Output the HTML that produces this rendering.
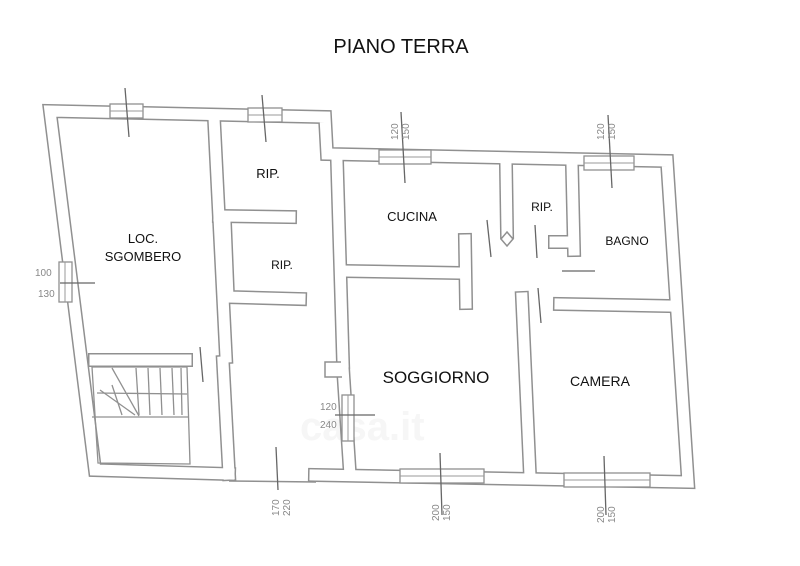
<!DOCTYPE html>
<html><head><meta charset="utf-8"><style>
html,body{margin:0;padding:0;background:#fff;}
svg{display:block}
text{font-family:"Liberation Sans",sans-serif;}
</style></head><body>
<svg width="800" height="566" viewBox="0 0 800 566" xmlns="http://www.w3.org/2000/svg">
<rect width="800" height="566" fill="#fff"/>
<text x="401" y="53" font-size="20" text-anchor="middle" fill="#111">PIANO TERRA</text>

<text x="300" y="440" font-size="40" font-weight="bold" fill="#f6f6f6">casa.it</text>

<g fill="none" stroke-linejoin="miter" stroke-linecap="square">
<g stroke="#909090" stroke-width="14">
  <polyline points="229,474 95,470 50,111 325,117 327,154 667,161 688,482 315,475"/>
  <polyline points="214,118 226,357"/>
  <polyline points="95,360 186,360"/>
  <polyline points="223,362 229,474"/>
  <polyline points="219,216 290,217"/>
  <polyline points="225,223 228,297 300,299"/>
  <polyline points="337,161 343,362"/>
  <polyline points="343,368 350,475"/>
  <polyline points="343,271 460,273"/>
  <polyline points="465,240 466,303"/>
  <polyline points="522,298 530,476"/>
  <polyline points="506,165 507,232"/>
  <polyline points="572,165 574,250"/>
  <polyline points="555,242 572,242"/>
  <polyline points="560,304 668,306"/>
</g>
<g stroke="#fff" stroke-width="11">
  <polyline points="229,474 95,470 50,111 325,117 327,154 667,161 688,482 315,475"/>
  <polyline points="214,118 226,357"/>
  <polyline points="95,360 186,360"/>
  <polyline points="223,362 229,474"/>
  <polyline points="219,216 290,217"/>
  <polyline points="225,223 228,297 300,299"/>
  <polyline points="337,161 343,362"/>
  <polyline points="343,368 350,475"/>
  <polyline points="343,271 460,273"/>
  <polyline points="465,240 466,303"/>
  <polyline points="522,298 530,476"/>
  <polyline points="506,165 507,232"/>
  <polyline points="572,165 574,250"/>
  <polyline points="555,242 572,242"/>
  <polyline points="560,304 668,306"/>
</g>
</g>
<line x1="229" y1="481" x2="316" y2="482" stroke="#909090" stroke-width="1.5"/>
<path d="M341,362 L325,362 L325,377 L342,377" fill="#fff" stroke="#909090" stroke-width="1.5"/>
<path d="M507,232 L513,239 L507,246 L501,239 Z" fill="#fff" stroke="#909090" stroke-width="1.5"/>

<g fill="#fff" stroke="#909090" stroke-width="1.3">
  <rect x="110" y="104" width="33" height="14"/>
  <rect x="248" y="108" width="34" height="14"/>
  <rect x="379" y="150" width="52" height="14"/>
  <rect x="584" y="156" width="50" height="14"/>
  <rect x="400" y="469" width="84" height="14"/>
  <rect x="564" y="473" width="86" height="14"/>
  <rect x="59" y="262" width="13" height="40"/>
  <rect x="342" y="395" width="12" height="46"/>
</g>
<g stroke="#9a9a9a" stroke-width="1">
  <line x1="110" y1="111" x2="143" y2="111"/>
  <line x1="248" y1="115" x2="282" y2="115"/>
  <line x1="379" y1="157" x2="431" y2="157"/>
  <line x1="584" y1="163" x2="634" y2="163"/>
  <line x1="400" y1="476" x2="484" y2="476"/>
  <line x1="564" y1="480" x2="650" y2="480"/>
  <line x1="65" y1="262" x2="65" y2="302"/>
  <line x1="348" y1="395" x2="348" y2="441"/>
</g>

<g stroke="#666" stroke-width="1.3">
  <line x1="125" y1="88" x2="129" y2="137"/>
  <line x1="262" y1="95" x2="266" y2="142"/>
  <line x1="401" y1="112" x2="405" y2="183"/>
  <line x1="608" y1="115" x2="612" y2="188"/>
  <line x1="440" y1="453" x2="442" y2="515"/>
  <line x1="604" y1="456" x2="606" y2="515"/>
  <line x1="276" y1="447" x2="278" y2="490"/>
  <line x1="60" y1="283" x2="95" y2="283"/>
  <line x1="335" y1="415" x2="375" y2="415"/>
  <line x1="200" y1="347" x2="203" y2="382"/>
  <line x1="487" y1="220" x2="491" y2="257"/>
  <line x1="535" y1="225" x2="537" y2="258"/>
  <line x1="538" y1="288" x2="541" y2="323"/>
  <line x1="562" y1="271" x2="595" y2="271"/>
</g>
<g font-size="10" fill="#888">
  <text x="35" y="276">100</text>
  <text x="38" y="297">130</text>
  <text x="320" y="410">120</text>
  <text x="320" y="428">240</text>
  <text transform="translate(398,140) rotate(-90)">120</text>
  <text transform="translate(409,140) rotate(-90)">150</text>
  <text transform="translate(604,140) rotate(-90)">120</text>
  <text transform="translate(615,140) rotate(-90)">150</text>
  <text transform="translate(279,516) rotate(-90)">170</text>
  <text transform="translate(290,516) rotate(-90)">220</text>
  <text transform="translate(439,521) rotate(-90)">200</text>
  <text transform="translate(450,521) rotate(-90)">150</text>
  <text transform="translate(604,523) rotate(-90)">200</text>
  <text transform="translate(615,523) rotate(-90)">150</text>
</g>

<g stroke="#909090" stroke-width="1.3" fill="none">
  <path d="M92,367 L187,367 L190,464 L98,463 Z"/>
  <line x1="92" y1="417" x2="188" y2="417"/>
  <line x1="112" y1="368" x2="139" y2="416"/>
  <line x1="136" y1="368" x2="139" y2="415"/>
  <line x1="148" y1="368" x2="150" y2="415"/>
  <line x1="160" y1="368" x2="162" y2="415"/>
  <line x1="172" y1="368" x2="174" y2="415"/>
  <line x1="181" y1="368" x2="182" y2="415"/>
  <line x1="97" y1="393" x2="187" y2="394"/>
  <line x1="100" y1="390" x2="135" y2="415"/>
  <line x1="112" y1="385" x2="122" y2="415"/>
</g>

<g fill="#111" text-anchor="middle">
  <text x="143" y="243" font-size="13">LOC.</text>
  <text x="143" y="261" font-size="13">SGOMBERO</text>
  <text x="268" y="178" font-size="13">RIP.</text>
  <text x="282" y="269" font-size="12">RIP.</text>
  <text x="412" y="221" font-size="13">CUCINA</text>
  <text x="542" y="211" font-size="12">RIP.</text>
  <text x="627" y="245" font-size="12">BAGNO</text>
  <text x="436" y="383" font-size="17">SOGGIORNO</text>
  <text x="600" y="386" font-size="14">CAMERA</text>
</g>
</svg>
</body></html>
